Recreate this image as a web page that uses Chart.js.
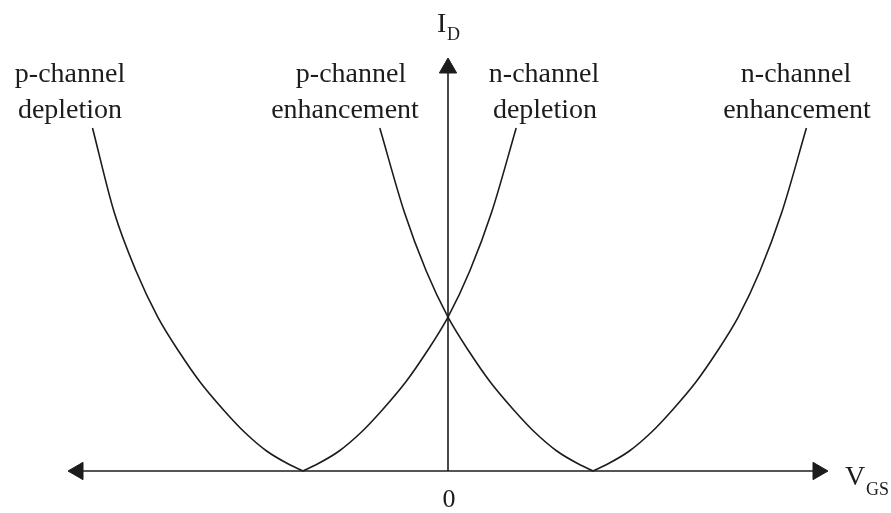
<!DOCTYPE html>
<html>
<head>
<meta charset="utf-8">
<script src="https://cdn.jsdelivr.net/npm/chart.js@4"></script>
<style>
  body { margin: 0; background: #fff; }
  canvas { display: block; }
</style>
</head>
<body>
<canvas id="chart" width="891" height="513"></canvas>
<script>
// curve points (V_GS, I_D), vertices at -1 and +1
var pDeplX = [-2.45, -2.3, -2.15, -2.0, -1.85, -1.71, -1.55, -1.4, -1.25, -1.1, -1.0];
var pDeplY = [2.23, 1.68, 1.3, 1.0, 0.77, 0.58, 0.40, 0.25, 0.13, 0.045, 0];

var nDeplX = [-1.0, -0.9, -0.75, -0.6, -0.45, -0.29, -0.15, 0.0, 0.15, 0.3, 0.47];
var nDeplY = [0, 0.045, 0.13, 0.25, 0.40, 0.58, 0.77, 1.0, 1.3, 1.68, 2.23];

var pEnhX = [-0.47, -0.3, -0.15, 0.0, 0.15, 0.29, 0.45, 0.6, 0.75, 0.9, 1.0];
var pEnhY = [2.23, 1.68, 1.3, 1.0, 0.77, 0.58, 0.40, 0.25, 0.13, 0.045, 0];

var nEnhX = [1.0, 1.1, 1.25, 1.4, 1.55, 1.71, 1.85, 2.0, 2.15, 2.3, 2.47];
var nEnhY = [0, 0.045, 0.13, 0.25, 0.40, 0.58, 0.77, 1.0, 1.3, 1.68, 2.23];

var xMin = -2.55, xMax = 2.55;
var yMax = 2.62;

function pts(xs, ys) {
  return xs.map(function (x, i) { return { x: x, y: ys[i] }; });
}

var ink = '#1c1c1c';

function curve(xs, ys) {
  return {
    data: pts(xs, ys),
    borderColor: ink,
    borderWidth: 1.6,
    pointRadius: 0,
    cubicInterpolationMode: 'monotone',
    clip: false
  };
}

var textPlugin = {
  id: 'texts',
  afterDraw: function (chart) {
    var ctx = chart.ctx;
    ctx.save();
    ctx.fillStyle = ink;
    ctx.textAlign = 'center';
    ctx.textBaseline = 'alphabetic';
    ctx.font = '28px "Liberation Serif"';
    ctx.fillText('p-channel', 70, 82);
    ctx.fillText('depletion', 70, 118);
    ctx.fillText('p-channel', 351, 82);
    ctx.fillText('enhancement', 345, 118);
    ctx.fillText('n-channel', 544, 82);
    ctx.fillText('depletion', 545, 118);
    ctx.fillText('n-channel', 796, 82);
    ctx.fillText('enhancement', 797, 118);
    ctx.font = '26px "Liberation Serif"';
    ctx.fillText('0', 449, 507);
    ctx.textAlign = 'left';
    ctx.font = '28px "Liberation Serif"';
    ctx.fillText('I', 437, 32);
    ctx.fillText('V', 845, 485);
    ctx.font = '18px "Liberation Serif"';
    ctx.fillText('D', 447, 40);
    ctx.fillText('GS', 866, 495);
    ctx.restore();
  }
};

new Chart('chart', {
  type: 'line',
  data: {
    datasets: [
      curve(pDeplX, pDeplY),
      curve(nDeplX, nDeplY),
      curve(pEnhX, pEnhY),
      curve(nEnhX, nEnhY),
      {
        // horizontal axis with arrow heads
        data: [{ x: xMin, y: 0 }, { x: xMax, y: 0 }],
        borderColor: ink,
        borderWidth: 1.6,
        pointStyle: 'triangle',
        pointRadius: 10,
        pointRotation: [-90, 90],
        pointBackgroundColor: ink,
        pointBorderColor: ink,
        pointBorderWidth: 1,
        clip: false
      },
      {
        // vertical axis
        data: [{ x: 0, y: 0 }, { x: 0, y: yMax }],
        borderColor: ink,
        borderWidth: 1.6,
        pointStyle: 'triangle',
        pointRadius: [0, 10],
        pointRotation: 0,
        pointBackgroundColor: ink,
        pointBorderColor: ink,
        pointBorderWidth: 1,
        clip: false
      }
    ]
  },
  options: {
    responsive: false,
    animation: false,
    layout: { padding: { left: 78, right: 73, top: 68, bottom: 42 } },
    plugins: { legend: { display: false }, tooltip: { enabled: false } },
    scales: {
      x: { type: 'linear', min: xMin, max: xMax, display: false },
      y: { type: 'linear', min: 0, max: yMax, display: false }
    }
  },
  plugins: [textPlugin]
});
</script>
</body>
</html>
